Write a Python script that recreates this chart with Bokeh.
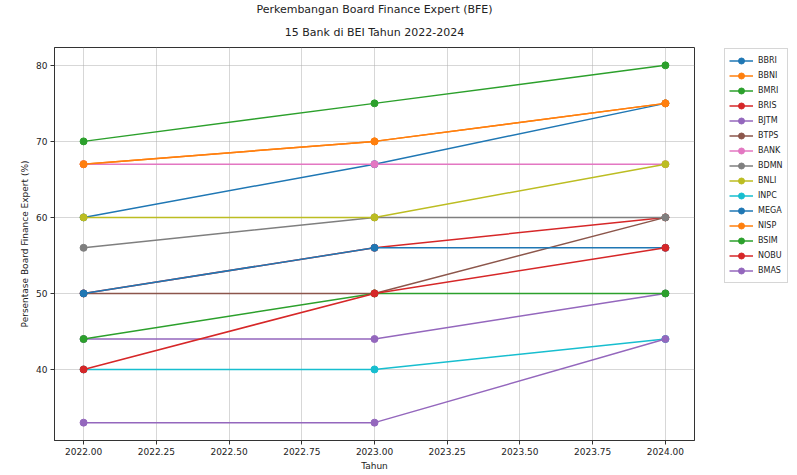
from bokeh.plotting import figure
from bokeh.models import (Title, Legend, LegendItem, FixedTicker, PrintfTickFormatter)
from bokeh.embed import file_html
from bokeh.resources import INLINE

years = [2022, 2023, 2024]
banks = ["BBRI", "BBNI", "BMRI", "BRIS", "BJTM", "BTPS", "BANK", "BDMN",
         "BNLI", "INPC", "MEGA", "NISP", "BSIM", "NOBU", "BMAS"]
bbri = [60, 67, 75]
bbni = [67, 70, 75]
bmri = [70, 75, 80]
bris = [50, 56, 60]
bjtm = [44, 44, 50]
btps = [50, 50, 60]
bank = [67, 67, 67]
bdmn = [56, 60, 60]
bnli = [60, 60, 67]
inpc = [40, 40, 44]
mega = [50, 56, 56]
nisp = [67, 70, 75]
bsim = [44, 50, 50]
nobu = [40, 50, 56]
bmas = [33, 33, 44]
series = [bbri, bbni, bmri, bris, bjtm, btps, bank, bdmn, bnli, inpc, mega, nisp, bsim, nobu, bmas]
x_ticks = [2022.0, 2022.25, 2022.5, 2022.75, 2023.0, 2023.25, 2023.5, 2023.75, 2024.0]
y_ticks = [40, 50, 60, 70, 80]
title_main = "Perkembangan Board Finance Expert (BFE)"
title_sub = "15 Bank di BEI Tahun 2022-2024"

tab10 = ["#1f77b4", "#ff7f0e", "#2ca02c", "#d62728", "#9467bd",
         "#8c564b", "#e377c2", "#7f7f7f", "#bcbd22", "#17becf"]

FONT = "DejaVu Sans"

p = figure(frame_width=640, frame_height=393, output_backend="svg",
           toolbar_location=None, x_range=(2021.9, 2024.1), y_range=(30.65, 82.35),
           min_border_left=54, min_border_right=95, min_border_bottom=30, min_border_top=44)

p.title = Title(text=title_main, align="center",
                text_font=FONT, text_font_size="11px", text_font_style="normal",
                text_color="#222222", standoff=0)
p.add_layout(Title(text=title_sub, align="center",
                   text_font=FONT, text_font_size="11px", text_font_style="normal",
                   text_color="#222222", standoff=17), "above")

items = []
for i, (name, vals) in enumerate(zip(banks, series)):
    c = tab10[i % 10]
    r1 = p.line(years, vals, line_color=c, line_width=1.5)
    r2 = p.scatter(years, vals, size=7, fill_color=c, line_color=c)
    items.append(LegendItem(label=name, renderers=[r1, r2]))

legend = Legend(items=items, location=(30, 393 - 3 - 233))
legend.label_text_font = FONT
legend.label_text_font_size = "8px"
legend.label_text_color = "#222222"
legend.glyph_width = 24
legend.glyph_height = 15
legend.label_height = 15
legend.spacing = 0
legend.padding = 4
legend.margin = 0
legend.label_standoff = 5
legend.border_line_color = "#cccccc"
legend.border_line_alpha = 0.8
legend.background_fill_alpha = 0.8
p.add_layout(legend, "right")

p.xaxis.ticker = FixedTicker(ticks=x_ticks)
p.xaxis.formatter = PrintfTickFormatter(format="%.2f")
p.yaxis.ticker = FixedTicker(ticks=y_ticks)
p.xaxis.axis_label = "Tahun"
p.yaxis.axis_label = "Persentase Board Finance Expert (%)"
for ax in [p.xaxis[0], p.yaxis[0]]:
    ax.axis_label_text_font = FONT
    ax.axis_label_text_font_size = "9px"
    ax.axis_label_text_font_style = "normal"
    ax.axis_label_text_color = "#222222"
    ax.major_label_text_font = FONT
    ax.major_label_text_font_size = "9px"
    ax.major_label_text_color = "#222222"
    ax.axis_line_color = "#333333"
    ax.major_tick_line_color = "#333333"
    ax.major_tick_out = 4
    ax.major_tick_in = 0
    ax.minor_tick_line_color = None
    ax.major_label_standoff = 3
    ax.axis_label_standoff = 3

p.outline_line_color = "#333333"
p.outline_line_alpha = 1
p.xgrid.grid_line_color = "#b0b0b0"
p.ygrid.grid_line_color = "#b0b0b0"
p.xgrid.grid_line_alpha = 0.5
p.ygrid.grid_line_alpha = 0.5
p.background_fill_color = "white"
p.border_fill_color = "white"

open("out.html", "w").write(file_html(p, INLINE))
